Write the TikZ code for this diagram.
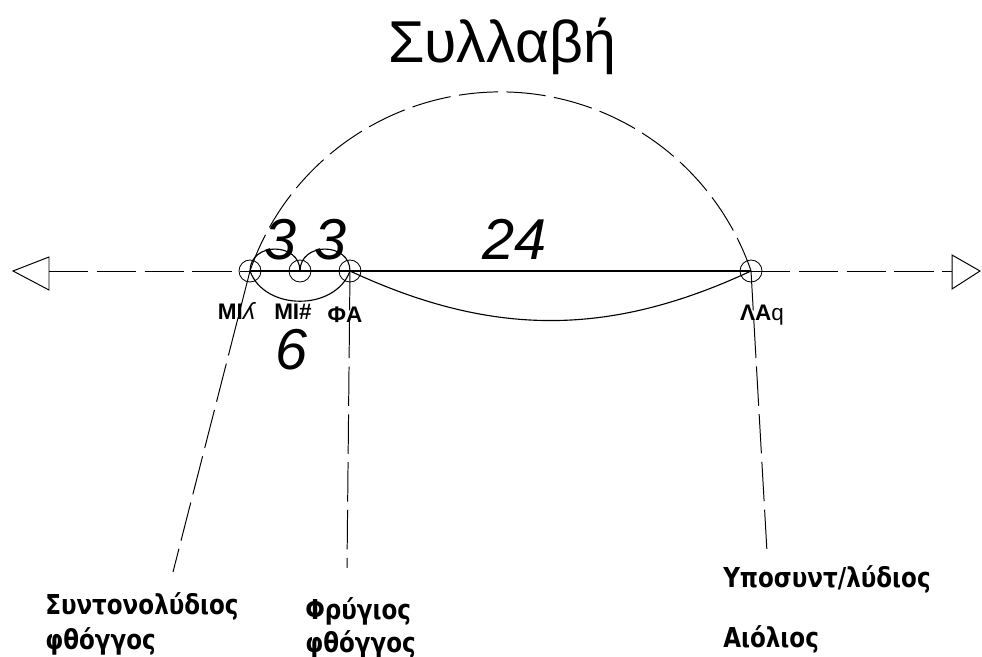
\documentclass[tikz,border=0pt]{standalone}
\usepackage{fontspec}
\setmainfont{Liberation Sans}
\newfontfamily\tagfont[FakeStretch=0.84]{DejaVu Sans}
\newfontfamily\glyphfont{DejaVu Sans}

\begin{document}
\begin{tikzpicture}[x=0.25mm, y=0.25mm,
    tone/.style={circle, draw, line width=0.6pt, minimum size=5.5mm, inner sep=0pt},
    dashline/.style={line width=0.7pt, dash pattern=on 28pt off 6pt},
    arcline/.style={line width=0.8pt},
    num/.style={font=\fontsize{41}{41}\selectfont\itshape, inner sep=0pt, anchor=base},
    notename/.style={font=\fontsize{16}{16}\selectfont\bfseries, inner sep=0pt, anchor=base},
    tag/.style={font=\tagfont\bfseries\fontsize{19.5}{19.5}\selectfont, inner sep=0pt, anchor=base west}]
    \useasboundingbox (0,0) rectangle (982,657);

    % Title
    \node[font=\fontsize{42}{42}\selectfont, inner sep=0pt, anchor=base] (title) at (502,594) {Συλλαβή};

    % Tones on the axis
    \node[tone] (mi) at (250,386) {};
    \node[tone] (mish) at (300,386) {};
    \node[tone] (fa) at (350,386) {};
    \node[tone] (la) at (751,386) {};

    % Axis with open arrow heads
    \coordinate (lend) at (49,386);
    \coordinate (rend) at (952,386);
    \draw[line width=0.7pt] (13,386) -- (49,400) -- (49,367) -- cycle;
    \draw[line width=0.7pt] (980,386) -- (952,402) -- (952,368) -- cycle;
    \draw[dashline] (lend) -- (mi.center);
    \draw[line width=0.8pt] (mi.center) -- (la.center);
    \draw[dashline] (la.center) -- (rend);

    % Steps above and below the axis
    \draw[arcline] (mi.center) to[out=90, in=90, looseness=1.5] (mish.center);
    \draw[arcline] (mish.center) to[out=90, in=90, looseness=1.5] (fa.center);
    \draw[arcline] (mi.center) to[out=-70, in=-110, looseness=1.1] (fa.center);
    \draw[arcline] (fa.center) to[bend right=25] (la.center);

    % Syllable arc and guide lines
    \draw[dashline] (mi.center) arc[start angle=161.1, end angle=18.9, radius=264.8];
    \coordinate (syn) at (173,85);
    \coordinate (fry) at (347,89);
    \coordinate (aeo) at (767,105);
    \draw[dashline] (mi.center) -- (syn);
    \draw[dashline] (fa.center) -- (fry);
    \draw[dashline] (la.center) -- (aeo);

    % Interval numbers
    \node[num] (n3a) at (281,397) {3};
    \node[num] (n3b) at (331,397) {3};
    \node[num] (n24) at (515,397) {24};
    \node[num] (n6) at (292,287) {6};

    % Tone names
    \node[notename] (lmi) at (237,337) {MI{\glyphfont\mdseries\itshape ʎ}};
    \node[notename] (lmish) at (293,337) {MI\#};
    \node[notename] (lfa) at (345,334) {ΦA};
    \node[notename] (lla) at (762,336) {ΛΑ{\mdseries q}};

    % Mode names
    \node[tag] (syntono) at (45,42) {Συντονολύδιος};
    \node[tag] (syntonob) at (45,7) {φθόγγος};
    \node[tag] (phryg) at (305,37) {Φρύγιος};
    \node[tag] (phrygb) at (305,5) {φθόγγος};
    \node[tag] (hypo) at (723,69) {Υποσυντ/λύδιος};
    \node[tag] (aeol) at (723,9) {Αιόλιος};
\end{tikzpicture}
\end{document}
